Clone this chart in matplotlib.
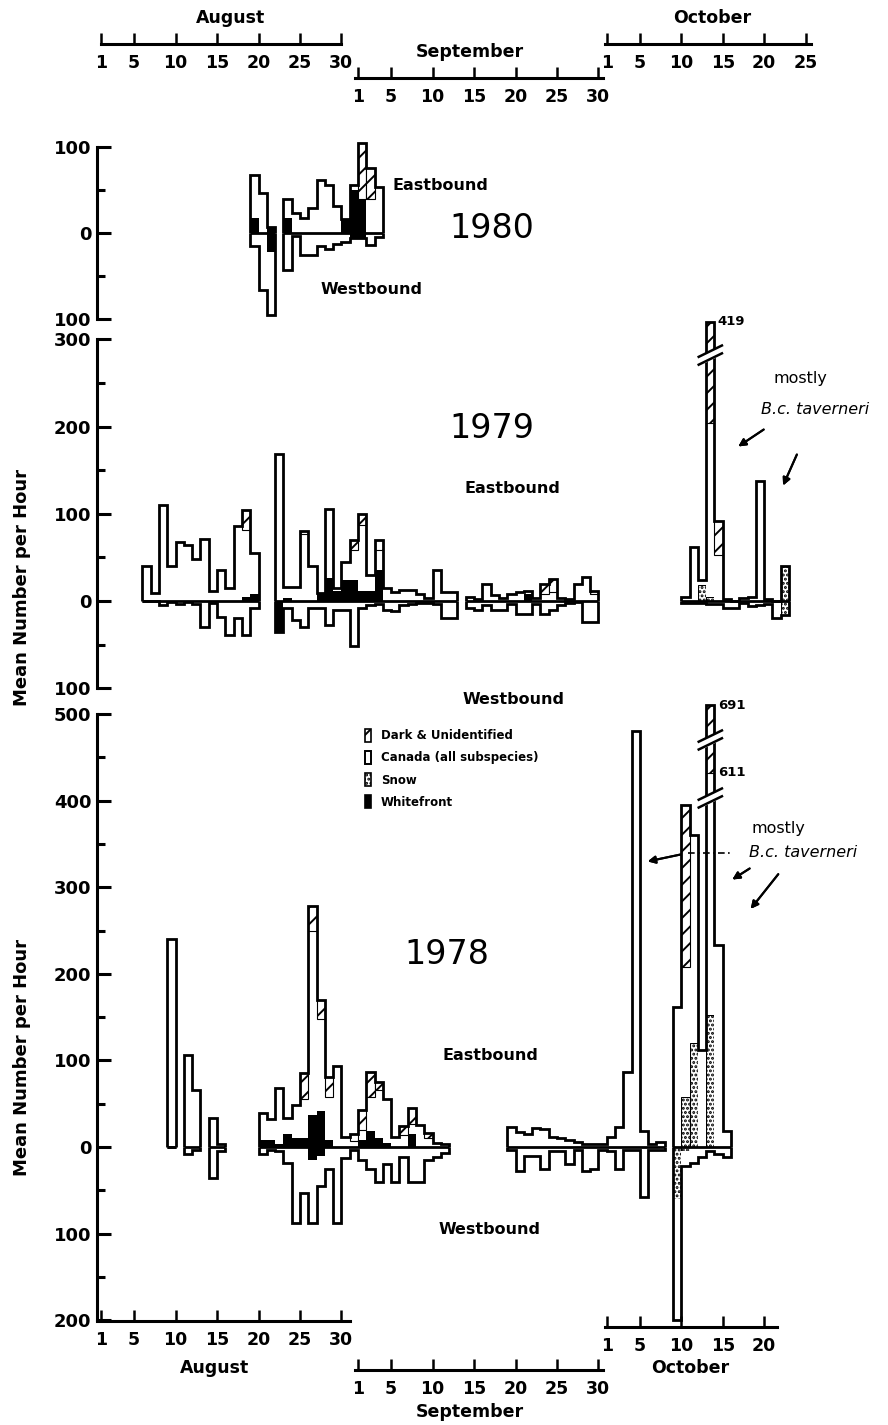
import numpy as np
import matplotlib
matplotlib.use("Agg")
import matplotlib.pyplot as plt
from matplotlib.patches import Patch

plt.rcParams['font.family'] = ['DejaVu Sans']
plt.rcParams['hatch.linewidth'] = 1.4

W, H = 888, 1425

# ---------------------------------------------------------------- calendar
MONTH_START = {"Aug": 1, "Sep": 32, "Oct": 62}   # continuous day index

AUG_TICKS = [1, 5, 10, 15, 20, 25, 30]
SEP_TICKS = [1, 5, 10, 15, 20, 25, 30]
OCT_TICKS_TOP = [1, 5, 10, 15, 20, 25]
OCT_TICKS_BOTTOM = [1, 5, 10, 15, 20]

# ---------------------------------------------------------------- 1980
DAYS_1980 = ([("Aug", d) for d in range(19, 22)] +
             [("Aug", d) for d in range(23, 32)] +
             [("Sep", d) for d in range(1, 4)])
E1980_WHITEFRONT = [17, 0, 7, 17, 0, 0, 0, 0, 0, 0, 16, 50, 39, 0, 0]
E1980_CANADA = [50, 47, 0, 23, 23, 17, 29, 62, 56, 31, 0, 6, 0, 39, 54]
E1980_DARK = [0, 0, 0, 0, 0, 0, 0, 0, 0, 0, 0, 0, 66, 37, 0]
W1980_WHITEFRONT = [0, 0, 22, 0, 0, 0, 0, 0, 0, 0, 0, 6, 6, 0, 0]
W1980_CANADA = [15, 66, 73, 43, 3, 25, 25, 15, 19, 13, 10, 0, 0, 14, 5]

# ---------------------------------------------------------------- 1979
DAYS_1979 = ([("Aug", d) for d in range(6, 20)] +
             [("Aug", d) for d in range(22, 32)] +
             [("Sep", d) for d in range(1, 13)] +
             [("Sep", d) for d in range(14, 30)] +
             [("Oct", d) for d in range(10, 23)])
E1979_WHITEFRONT = ([0, 0, 0, 0, 0, 0, 0, 0, 0, 0, 0, 0, 5, 8] +
                    [0, 3, 0, 0, 0, 9, 26, 12, 24, 24] +
                    [12, 12, 35, 0, 0, 0, 0, 0, 0, 0, 0, 0] +
                    [0, 0, 0, 0, 0, 0, 0, 8, 0, 0, 0, 0, 0, 0, 0, 0] +
                    [0, 0, 0, 0, 0, 0, 0, 0, 0, 0, 0, 0, 0])
E1979_SNOW = ([0] * 14 + [0] * 10 + [0] * 12 + [0] * 16 +
              [0, 0, 18, 5, 0, 0, 0, 0, 0, 0, 0, 0, 40])
E1979_CANADA = ([40, 9, 110, 40, 68, 64, 48, 71, 11, 35, 15, 86, 76, 47] +
                [169, 13, 16, 77, 40, 0, 80, 3, 21, 34] +
                [75, 18, 23, 15, 10, 13, 13, 8, 4, 36, 10, 10] +
                [5, 2, 20, 7, 3, 8, 10, 4, 3, 8, 10, 3, 2, 20, 28, 8] +
                [5, 62, 6, 199, 53, 2, 0, 3, 5, 138, 2, 0, 0])
E1979_DARK = ([0, 0, 0, 0, 0, 0, 0, 0, 0, 0, 0, 0, 23, 0] +
              [0, 0, 0, 3, 0, 0, 0, 0, 0, 12] +
              [13, 0, 12, 0, 0, 0, 0, 0, 0, 0, 0, 0] +
              [0, 0, 0, 0, 0, 0, 0, 0, 0, 12, 15, 0, 0, 0, 0, 4] +
              [0, 0, 0, 215, 39, 0, 0, 0, 0, 0, 0, 0, 0])
W1979_WHITEFRONT = ([0] * 14 + [35, 0, 0, 0, 0, 0, 0, 0, 0, 0] +
                    [0] * 12 + [0] * 16 + [0] * 13)
W1979_SNOW = ([0] * 14 + [0] * 10 + [0] * 12 + [0] * 16 +
              [0, 0, 0, 0, 0, 0, 0, 0, 0, 0, 0, 0, 16])
W1979_CANADA = ([0, 0, 5, 1, 3, 1, 3, 30, 2, 18, 39, 20, 39, 8] +
                [0, 8, 22, 30, 8, 8, 27, 10, 10, 52] +
                [8, 5, 3, 10, 12, 5, 3, 2, 2, 3, 20, 20] +
                [8, 10, 5, 10, 10, 3, 15, 15, 3, 15, 10, 5, 2, 1, 24, 24] +
                [2, 2, 2, 4, 3, 8, 8, 2, 6, 5, 4, 20, 0])

# ---------------------------------------------------------------- 1978
DAYS_1978 = ([("Aug", 9), ("Aug", 11), ("Aug", 12), ("Aug", 14), ("Aug", 15)] +
             [("Aug", d) for d in range(20, 32)] +
             [("Sep", d) for d in range(1, 12)] +
             [("Sep", d) for d in range(19, 31)] +
             [("Oct", d) for d in range(1, 8)] +
             [("Oct", d) for d in range(9, 16)])
E1978_WHITEFRONT = ([0, 0, 0, 0, 0] +
                    [8, 8, 3, 15, 10, 10, 37, 41, 8, 0, 0, 0] +
                    [8, 18, 10, 5, 0, 0, 15, 0, 0, 0, 0] +
                    [0] * 12 + [0] * 7 + [0] * 7)
E1978_SNOW = ([0] * 5 + [0] * 12 + [0] * 11 + [0] * 12 + [0] * 7 +
              [0, 58, 120, 0, 152, 0, 0])
E1978_CANADA = ([240, 106, 66, 33, 3] +
                [31, 24, 65, 18, 38, 45, 213, 107, 50, 93, 11, 7] +
                [12, 40, 56, 51, 12, 14, 12, 25, 10, 5, 3] +
                [23, 17, 15, 22, 21, 12, 10, 8, 6, 4, 3, 3] +
                [12, 23, 87, 480, 18, 3, 6] +
                [162, 150, 240, 112, 459, 233, 18])
E1978_DARK = ([0] * 5 +
              [0, 0, 0, 0, 0, 30, 28, 22, 23, 0, 0, 8] +
              [23, 29, 9, 0, 0, 10, 18, 0, 6, 0, 0] +
              [0] * 12 + [0] * 7 +
              [0, 187, 0, 0, 80, 0, 0])
W1978_WHITEFRONT = ([0] * 5 +
                    [0, 0, 0, 0, 0, 0, 15, 10, 0, 0, 0, 0] +
                    [0] * 11 + [0] * 12 + [0] * 7 + [0] * 7)
W1978_SNOW = ([0] * 5 + [0] * 12 + [0] * 11 + [0] * 12 + [0] * 7 +
              [60, 5, 0, 0, 0, 0, 0])
W1978_CANADA = ([0, 8, 3, 36, 5] +
                [8, 3, 5, 18, 88, 53, 73, 35, 25, 88, 13, 3] +
                [15, 25, 40, 20, 40, 12, 40, 40, 15, 12, 7] +
                [3, 28, 10, 10, 25, 5, 5, 20, 3, 28, 25, 3] +
                [5, 25, 3, 3, 58, 3, 3] +
                [140, 17, 18, 12, 5, 8, 12])

# broken-scale bars: day and knots (true value -> drawn value)
BROKEN_1979 = [("Oct", 13)]
BREAK_1979 = ([0, 282, 419], [0, 282, 320])
BROKEN_1978 = [("Oct", 13)]
BREAK_1978 = ([0, 400, 611, 691], [0, 400, 432, 510])

# ---------------------------------------------------------------- layout helpers
fig = plt.figure(figsize=(W / 100, H / 100), dpi=100)
L_PX, R_PX = 97.0, 870.0
PX0, PXD = 101.0, 8.29
XL = 1 + (L_PX - PX0) / PXD
XR = 1 + (R_PX - PX0) / PXD


def P(x, y):
    return (x / W, 1 - y / H)


def idx(m, d):
    return MONTH_START[m] + d - 1


STYLE = {
    "whitefront": dict(facecolor="black", edgecolor="black", linewidth=0),
    "snow": dict(facecolor="white", edgecolor="black", hatch="....", linewidth=0.8),
    "canada": dict(facecolor="white", linewidth=0),
    "dark": dict(facecolor="white", edgecolor="black", hatch="//", linewidth=0.8),
}

OUT_LW = 2.0


def panel_axes(top_px, bot_px, zero_px, scale, bounds, major, minor):
    ax = fig.add_axes([L_PX / W, 1 - bot_px / H, (R_PX - L_PX) / W, (bot_px - top_px) / H])
    ax.set_xlim(XL, XR)
    ax.set_ylim((zero_px - bot_px) / scale, (zero_px - top_px) / scale)
    ax.patch.set_visible(False)
    for s in ("top", "right", "bottom"):
        ax.spines[s].set_visible(False)
    ax.spines["left"].set_bounds(*bounds)
    ax.spines["left"].set_linewidth(2.2)
    ax.set_xticks([])
    ax.set_yticks(major, [str(abs(v)) for v in major], fontweight="bold")
    ax.set_yticks(minor, minor=True)
    ax.tick_params(axis="y", which="major", direction="in", length=10, width=2.2,
                   labelsize=13, pad=4)
    ax.tick_params(axis="y", which="minor", direction="in", length=6, width=2.2)
    return ax


def blocks(x):
    out, start = [], 0
    for i in range(1, len(x) + 1):
        if i == len(x) or x[i] != x[i - 1] + 1:
            out.append(np.arange(start, i))
            start = i
    return out


def draw_panel(ax, days, east, west, broken=(), knots=None):
    x = np.array([idx(m, d) for m, d in days], float)
    brk = np.array([(m, d) in broken for m, d in days])

    def f(v):
        v = np.asarray(v, float)
        if knots is None:
            return v
        return np.where(brk, np.interp(v, knots[0], knots[1]), v)

    for sign, comps in ((1, east), (-1, west)):
        cum = np.zeros(len(x))
        for vals, kind in comps:
            vals = np.asarray(vals, float)
            assert len(vals) == len(x)
            lo, hi = f(cum), f(cum + vals)
            cum = cum + vals
            m = vals > 0
            if m.any():
                ax.bar(x[m], sign * (hi - lo)[m], bottom=sign * lo[m], width=1.0,
                       align="edge", zorder=2, **STYLE[kind])
        tot = f(cum)
        for b in blocks(x):
            edges = np.append(x[b], x[b][-1] + 1)
            ax.stairs(sign * tot[b], edges, baseline=0, color="black", lw=OUT_LW, zorder=3)
    for b in blocks(x):
        ax.hlines(0, x[b][0], x[b][-1] + 1, color="black", lw=OUT_LW, zorder=3)


def break_mark(ax, xi, y, rise, gap):
    xs = np.array([xi - 0.9, xi + 1.9])
    lo = np.array([y - rise / 2 - gap / 2, y + rise / 2 - gap / 2])
    hi = lo + gap
    ax.fill_between(xs, lo, hi, color="white", zorder=5)
    ax.plot(xs, lo, color="black", lw=1.8, zorder=6)
    ax.plot(xs, hi, color="black", lw=1.8, zorder=6)


def bracket(y_px, mstart, ticks, lo, hi, labelsize=12.5):
    ax = fig.add_axes([L_PX / W, 1 - y_px / H, (R_PX - L_PX) / W, 1.0 / H])
    ax.set_xlim(XL, XR)
    ax.patch.set_visible(False)
    for s in ("top", "left", "right"):
        ax.spines[s].set_visible(False)
    ax.spines["bottom"].set_bounds(mstart + lo - 1, mstart + hi - 1)
    ax.spines["bottom"].set_linewidth(2.2)
    ax.set_yticks([])
    ax.set_xticks([mstart + t - 1 for t in ticks], [str(t) for t in ticks], fontweight="bold")
    ax.tick_params(axis="x", direction="in", length=8, width=1.8, labelsize=labelsize, pad=7)
    return ax


# ---------------------------------------------------------------- panels
ax80 = panel_axes(138, 330, 233, 0.86, (-100, 100), [-100, 0, 100], [-50, 50])
draw_panel(ax80, DAYS_1980,
           [(E1980_WHITEFRONT, "whitefront"), (E1980_CANADA, "canada"), (E1980_DARK, "dark")],
           [(W1980_WHITEFRONT, "whitefront"), (W1980_CANADA, "canada")])

ax79 = panel_axes(312, 700, 601, 0.872, (-100, 300), [-100, 0, 100, 200, 300],
                  [-50, 50, 150, 250])
draw_panel(ax79, DAYS_1979,
           [(E1979_WHITEFRONT, "whitefront"), (E1979_SNOW, "snow"),
            (E1979_CANADA, "canada"), (E1979_DARK, "dark")],
           [(W1979_WHITEFRONT, "whitefront"), (W1979_SNOW, "snow"), (W1979_CANADA, "canada")],
           broken=BROKEN_1979, knots=BREAK_1979)
break_mark(ax79, idx("Oct", 13), 282, 13, 9)
ax79.text(idx("Oct", 13) + 1.4, 320, "419", fontsize=9.5, fontweight="bold", va="center")

ax78 = panel_axes(700, 1330, 1147, 0.866, (-200, 500),
                  [-200, -100, 0, 100, 200, 300, 400, 500],
                  [-150, -50, 50, 150, 250, 350, 450])
draw_panel(ax78, DAYS_1978,
           [(E1978_WHITEFRONT, "whitefront"), (E1978_SNOW, "snow"),
            (E1978_CANADA, "canada"), (E1978_DARK, "dark")],
           [(W1978_WHITEFRONT, "whitefront"), (W1978_SNOW, "snow"), (W1978_CANADA, "canada")],
           broken=BROKEN_1978, knots=BREAK_1978)
break_mark(ax78, idx("Oct", 13), 403, 13, 9)
break_mark(ax78, idx("Oct", 13), 470, 13, 9)
ax78.text(idx("Oct", 13) + 1.4, 510, "691", fontsize=9.5, fontweight="bold", va="center")
ax78.text(idx("Oct", 13) + 1.4, 432, "611", fontsize=9.5, fontweight="bold", va="center")

# ---------------------------------------------------------------- month brackets
bracket(44, MONTH_START["Aug"], AUG_TICKS, 1, 30)
bracket(78, MONTH_START["Sep"], SEP_TICKS, 0.6, 30.6)
bracket(44, MONTH_START["Oct"], OCT_TICKS_TOP, 0.8, 25.6)
bracket(1321, MONTH_START["Aug"], AUG_TICKS, 0.55, 31)
bracket(1370, MONTH_START["Sep"], SEP_TICKS, 0.6, 30.6)
bracket(1327, MONTH_START["Oct"], OCT_TICKS_BOTTOM, 0.8, 21.5)

MFONT = dict(fontsize=12.5, fontweight="bold", ha="center", va="center")
fig.text(*P(231, 18), "August", **MFONT)
fig.text(*P(470, 52), "September", **MFONT)
fig.text(*P(712, 18), "October", **MFONT)
fig.text(*P(215, 1368), "August", **MFONT)
fig.text(*P(470, 1412), "September", **MFONT)
fig.text(*P(690, 1368), "October", **MFONT)

# ---------------------------------------------------------------- annotations
YFONT = dict(fontsize=24, ha="center", va="center")
fig.text(*P(492, 228), "1980", **YFONT)
fig.text(*P(492, 428), "1979", **YFONT)
fig.text(*P(447, 955), "1978", **YFONT)

BFONT = dict(fontsize=11.5, fontweight="bold", ha="center", va="center")
fig.text(*P(440, 185), "Eastbound", **BFONT)
fig.text(*P(372, 290), "Westbound", **BFONT)
fig.text(*P(512, 488), "Eastbound", **BFONT)
fig.text(*P(514, 700), "Westbound", **BFONT)
fig.text(*P(490, 1055), "Eastbound", **BFONT)
fig.text(*P(490, 1230), "Westbound", **BFONT)

LFONT = dict(fontsize=13, fontweight="bold", rotation=90, ha="center", va="center")
fig.text(*P(22, 588), "Mean Number per Hour", **LFONT)
fig.text(*P(22, 1057), "Mean Number per Hour", **LFONT)

# "mostly B.c. taverneri" notes
fig.text(*P(800, 378), "mostly", fontsize=11.5, ha="center", va="center")
fig.text(*P(815, 410), "B.c. taverneri", fontsize=11.5, style="italic", ha="center", va="center")
fig.text(*P(778, 828), "mostly", fontsize=11.5, ha="center", va="center")
fig.text(*P(803, 853), "B.c. taverneri", fontsize=11.5, style="italic", ha="center", va="center")

AP = dict(arrowstyle="-|>", color="black", lw=1.5, mutation_scale=11)
for (x0, y0), (x1, y1) in [((766, 428), (736, 448)), ((798, 452), (782, 488)),
                           ((752, 867), (730, 881)), ((780, 872), (749, 911)),
                           ((683, 854), (645, 862))]:
    fig.add_artist(plt.annotate("", xy=P(x1, y1), xytext=P(x0, y0), xycoords="figure fraction",
                                textcoords="figure fraction", arrowprops=AP))
fig.add_artist(plt.Line2D([688 / W, 733 / W], [1 - 853 / H, 1 - 853 / H], color="black",
                          lw=1.2, linestyle=(0, (4, 2, 1, 2))))

# ---------------------------------------------------------------- legend
handles = [Patch(facecolor="white", edgecolor="black", hatch="//", lw=1.2),
           Patch(facecolor="white", edgecolor="black", lw=1.4),
           Patch(facecolor="white", edgecolor="black", hatch="....", lw=1.2),
           Patch(facecolor="black", edgecolor="black", lw=1.2)]
labels = ["Dark & Unidentified", "Canada (all subspecies)", "Snow", "Whitefront"]
fig.legend(handles, labels, loc="upper left", bbox_to_anchor=P(360, 724), frameon=False,
           prop=dict(size=8.5, weight="bold"), handlelength=0.55, handleheight=1.3,
           handletextpad=0.8, labelspacing=0.75, borderaxespad=0)

fig.savefig("out.png", dpi=100)
